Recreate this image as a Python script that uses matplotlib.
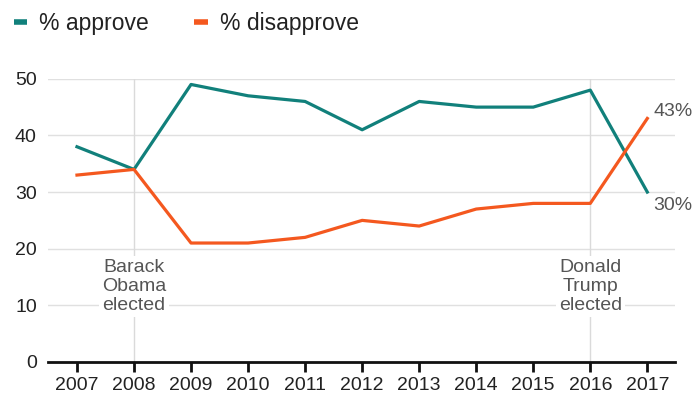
import matplotlib.pyplot as plt
from matplotlib.lines import Line2D

plt.rcParams['font.family'] = ['Liberation Sans', 'DejaVu Sans']

years = [2007, 2008, 2009, 2010, 2011, 2012, 2013, 2014, 2015, 2016, 2017]
approve = [38, 34, 49, 47, 46, 41, 46, 45, 45, 48, 30]
disapprove = [33, 34, 21, 21, 22, 25, 24, 27, 28, 28, 43]
events = {2008: "Barack\nObama\nelected", 2016: "Donald\nTrump\nelected"}

teal = '#11807b'
orange = '#f4581f'
text_grey = '#555555'

fig = plt.figure(figsize=(6.94, 3.96), dpi=100)
ax = fig.add_axes([0.069, 0.086, 0.904, 0.715])

# light horizontal grid and event markers
for yv in range(10, 51, 10):
    ax.axhline(yv, color='#e0e0e0', lw=1, zorder=0)
for yr in events:
    ax.axvline(yr, color='#dadada', lw=1, zorder=0)

ax.plot(years, approve, color=teal, lw=2.3, zorder=3)
ax.plot(years, disapprove, color=orange, lw=2.3, zorder=3)

for yr, label in events.items():
    ax.text(yr, 13.3, label, ha='center', va='center', fontsize=14,
            color=text_grey, linespacing=1.15, zorder=2,
            bbox=dict(facecolor='white', edgecolor='none', pad=2))

ax.text(years[-1] + 0.1, disapprove[-1] + 1.3, f"{disapprove[-1]}%", ha='left',
        va='center', fontsize=14, color=text_grey)
ax.text(years[-1] + 0.1, approve[-1] - 2.4, f"{approve[-1]}%", ha='left',
        va='center', fontsize=14, color=text_grey)

ax.set_xlim(2006.49, 2017.49)
ax.set_ylim(0, 50)
ax.set_xticks(years)
ax.set_yticks(range(0, 51, 10))
for side in ['top', 'right', 'left']:
    ax.spines[side].set_visible(False)
ax.spines['bottom'].set_linewidth(2)
ax.spines['bottom'].set_color('#111111')
ax.spines['bottom'].set_zorder(4)
ax.tick_params(axis='x', length=7, width=2, color='#111111', labelsize=14,
               labelcolor='#222222', pad=4)
ax.tick_params(axis='y', length=0, labelsize=14, labelcolor='#222222', pad=8)

handles = [Line2D([0], [0], color=teal, lw=4, solid_capstyle='butt'),
           Line2D([0], [0], color=orange, lw=4, solid_capstyle='butt')]
fig.legend(handles, ['% approve', '% disapprove'], loc='upper left',
           bbox_to_anchor=(-0.01, 1.022), ncol=2, frameon=False, fontsize=16.5,
           handlelength=0.6, handletextpad=0.5, columnspacing=2.0,
           labelcolor='#222222')

fig.savefig('out.png', dpi=100)
